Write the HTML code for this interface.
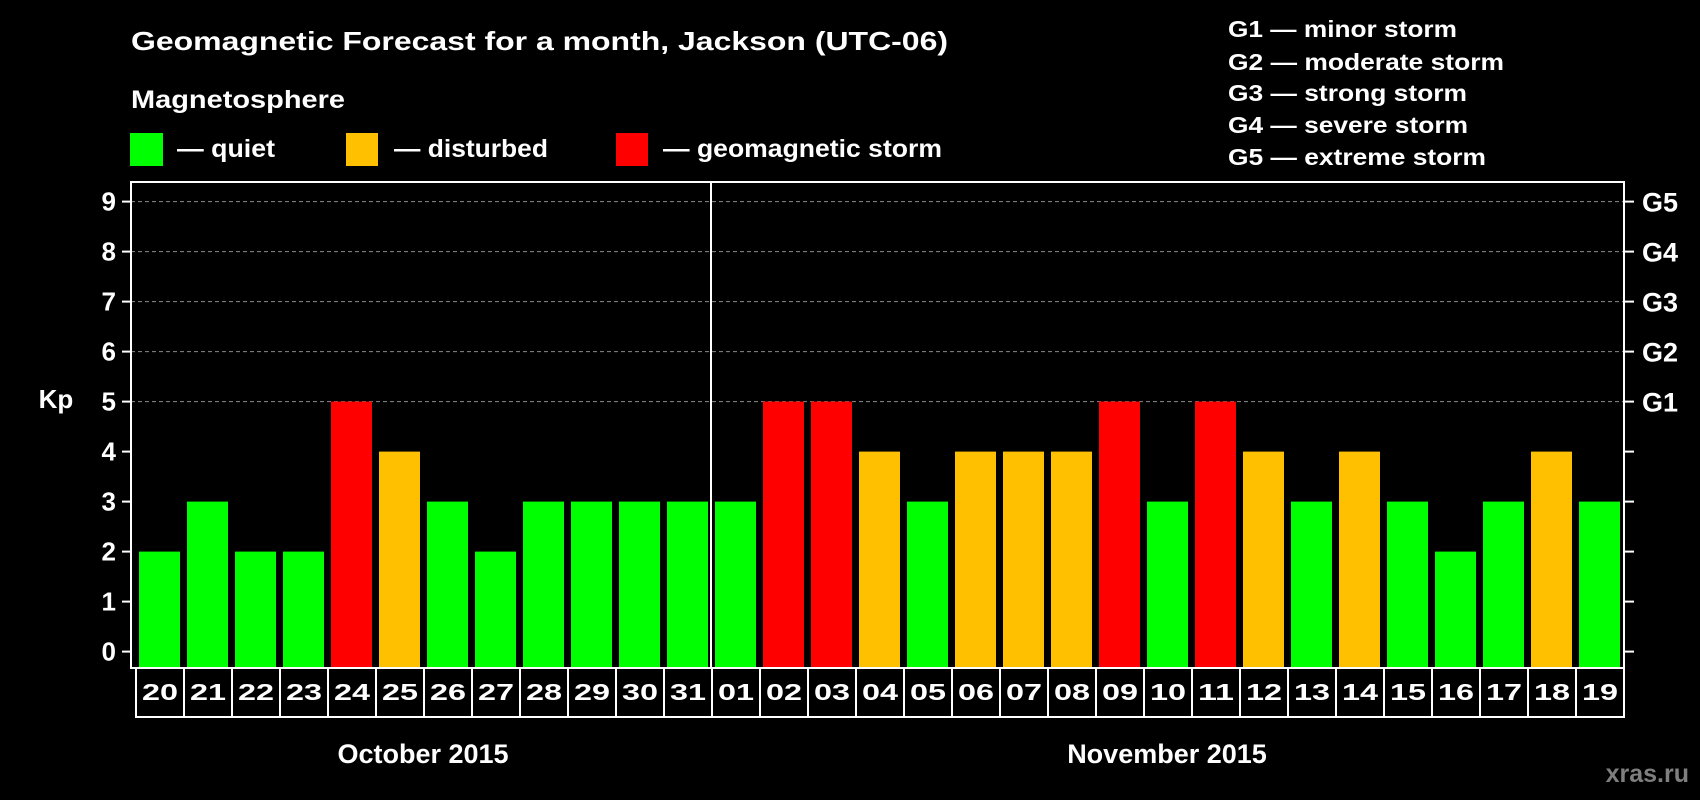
<!DOCTYPE html>
<html><head><meta charset="utf-8"><style>
html,body{margin:0;padding:0;background:#000;width:1700px;height:800px;overflow:hidden}
svg{display:block;font-family:"Liberation Sans",Arial,sans-serif;font-weight:bold}
</style></head><body>
<svg id="chart" width="1700" height="800" viewBox="0 0 1700 800">
<rect x="0" y="0" width="1700" height="800" fill="#000"/>
<text x="131" y="50" fill="#fff" font-size="26" textLength="817" lengthAdjust="spacingAndGlyphs">Geomagnetic Forecast for a month, Jackson (UTC-06)</text>
<text x="131" y="108" fill="#fff" font-size="25" textLength="214" lengthAdjust="spacingAndGlyphs">Magnetosphere</text>
<g><rect x="130" y="133" width="33" height="33" fill="#00ff00"/><text x="177" y="157" fill="#fff" font-size="25" textLength="98" lengthAdjust="spacingAndGlyphs">— quiet</text></g>
<g><rect x="346" y="133" width="32" height="33" fill="#ffc000"/><text x="394" y="157" fill="#fff" font-size="25" textLength="154" lengthAdjust="spacingAndGlyphs">— disturbed</text></g>
<g><rect x="616" y="133" width="32" height="33" fill="#ff0000"/><text x="663" y="157" fill="#fff" font-size="25" textLength="279" lengthAdjust="spacingAndGlyphs">— geomagnetic storm</text></g>
<g fill="#fff" font-size="23">
<text x="1228" y="37" textLength="229" lengthAdjust="spacingAndGlyphs">G1 — minor storm</text>
<text x="1228" y="70" textLength="276" lengthAdjust="spacingAndGlyphs">G2 — moderate storm</text>
<text x="1228" y="101" textLength="239" lengthAdjust="spacingAndGlyphs">G3 — strong storm</text>
<text x="1228" y="133" textLength="240" lengthAdjust="spacingAndGlyphs">G4 — severe storm</text>
<text x="1228" y="165" textLength="258" lengthAdjust="spacingAndGlyphs">G5 — extreme storm</text>
</g>
<text x="56" y="408" fill="#fff" font-size="26" text-anchor="middle">Kp</text>
<g id="grid"></g>
<g id="bars"></g>
<g id="axes"></g>
<text x="423" y="763" fill="#fff" font-size="27" text-anchor="middle">October 2015</text>
<text x="1167" y="763" fill="#fff" font-size="27" text-anchor="middle">November 2015</text>
<text x="1689" y="782" fill="#7f7f7f" font-size="25" text-anchor="end">xras.ru</text>
</svg>
<script>
const days = ["20","21","22","23","24","25","26","27","28","29","30","31","01","02","03","04","05","06","07","08","09","10","11","12","13","14","15","16","17","18","19"];
const kpValues = [2,3,2,2,5,4,3,2,3,3,3,3,3,5,5,4,3,4,4,4,5,3,5,4,3,4,3,2,3,4,3];
const yTicks = [0,1,2,3,4,5,6,7,8,9];
const gLabels = ["G1","G2","G3","G4","G5"];
const gLevels = [5,6,7,8,9];
const monthBreakIndex = 12;

const NS = "http://www.w3.org/2000/svg";
const PL = 131, PR = 1624, PT = 182, PB = 668;
const Y0 = 651.6, UNIT = 50;
const X0 = 136, STEP = 48;
function yS(v){ return Y0 - v*UNIT; }
function xS(i){ return X0 + i*STEP; }
function mk(tag, attrs, parent){
  const el = document.createElementNS(NS, tag);
  for (const k in attrs) el.setAttribute(k, attrs[k]);
  parent.appendChild(el); return el;
}
function color(v){ return v>=5 ? "#ff0000" : (v>=4 ? "#ffc000" : "#00ff00"); }

const grid = document.getElementById("grid");
const bars = document.getElementById("bars");
const axes = document.getElementById("axes");

gLevels.forEach(function(v){
  const l = mk("line", {x1:PL, x2:PR, y1:yS(v), y2:yS(v), stroke:"#8a8a8a", "stroke-width":1, "stroke-dasharray":"4,3"}, grid);
  
  
});

kpValues.forEach(function(v,i){
  const r = mk("rect", {x:xS(i)+3, y:yS(v), width:41, height:PB-yS(v), fill:color(v)}, bars);
  
  
});

// plot frame
const frame = mk("rect", {x:PL, y:PT, width:PR-PL, height:PB-PT, fill:"none", stroke:"#fff", "stroke-width":2}, axes);


const div = mk("line", {x1:xS(monthBreakIndex)-1, x2:xS(monthBreakIndex)-1, y1:PT, y2:PB, stroke:"#fff", "stroke-width":2}, axes);



yTicks.forEach(function(v){
  const t = mk("line", {x1:PL-9, x2:PL, y1:yS(v), y2:yS(v), stroke:"#fff", "stroke-width":2}, axes);
  
  
  const tr = mk("line", {x1:PR, x2:PR+10, y1:yS(v), y2:yS(v), stroke:"#fff", "stroke-width":2}, axes);
  
  
  const tx = mk("text", {x:116, y:yS(v)+9, fill:"#fff", "font-size":26, "text-anchor":"end"}, axes);
  tx.textContent = String(v);
  
  
});

gLabels.forEach(function(g,i){
  const tx = mk("text", {x:1642, y:yS(gLevels[i])+10, fill:"#fff", "font-size":27}, axes);
  tx.textContent = g;
  
  
});

days.forEach(function(d,i){
  const c = mk("rect", {x:xS(i), y:PB, width:STEP, height:49, fill:"#000", stroke:"#fff", "stroke-width":2}, axes);
  
  
  const tx = mk("text", {x:xS(i)+STEP/2, y:700, fill:"#fff", "font-size":23, "text-anchor":"middle", textLength:36, lengthAdjust:"spacingAndGlyphs"}, axes);
  tx.textContent = d;
  
  
});
</script>
</body></html>
